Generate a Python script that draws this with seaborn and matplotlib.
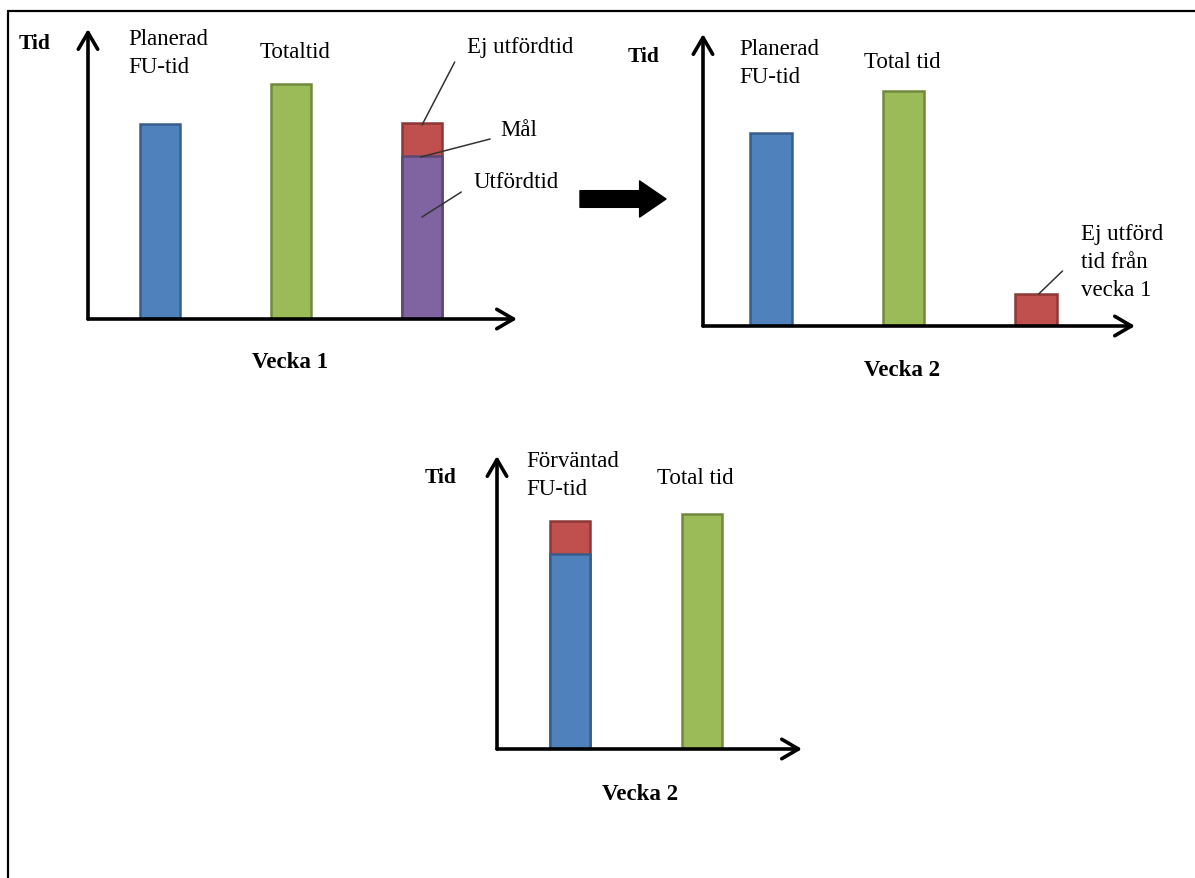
import matplotlib
matplotlib.use("Agg")
import matplotlib.pyplot as plt
from matplotlib.lines import Line2D
import seaborn as sns

# Vecka 1
v1_categories = ["Planerad FU-tid", "Totaltid", "Utfördtid"]
v1_values = [195, 235, 163]
v1_ej_utford = [0, 0, 33]          # stacked on top of Utfördtid

# Vecka 2
v2_categories = ["Planerad FU-tid", "Total tid", "Ej utförd tid från vecka 1"]
v2_values = [193, 235, 32]

# Vecka 2, förväntad
v3_categories = ["Förväntad FU-tid", "Total tid"]
v3_values = [195, 235]
v3_ej_utford = [33, 0]

BLUE, GREEN, PURPLE, RED = "#4F81BD", "#9BBB59", "#8064A2", "#C0504D"
EDGE = {BLUE: "#385D8A", GREEN: "#71893F", PURPLE: "#5C4776", RED: "#8C3836"}

W, H = 1195, 879
BAR_W = 0.31

sns.set_theme(style="white")
plt.rcParams['font.family'] = ['Liberation Serif', 'DejaVu Serif']
plt.rcParams['text.color'] = 'black'

fig = plt.figure(figsize=(W / 100, H / 100), dpi=100)


def panel(left, right, base, tip):
    # axes box from pixel layout, data units = pixels above the x-axis
    ax = fig.add_axes([left / W, 1 - base / H, (right - left) / W, (base - tip) / H])
    ax.set_axis_off()
    arrow = dict(arrowstyle="->,head_length=0.6,head_width=0.35", lw=2.6,
                 color="black", shrinkA=0, shrinkB=0, mutation_scale=20)
    ax.annotate("", xy=(1, 0), xytext=(0, 0), xycoords="axes fraction", arrowprops=arrow)
    ax.annotate("", xy=(0, 1), xytext=(0, 0), xycoords="axes fraction", arrowprops=arrow)
    return ax


def set_limits(ax, left, right, base, tip, first_c, step):
    # seaborn resets categorical limits, so this goes after the bars
    ax.set_xlim((left - first_c) / step, (right - first_c) / step)
    ax.set_ylim(0, base - tip)


def bars(ax, cats, vals, colors, order):
    sns.barplot(x=cats, y=vals, hue=cats, order=order, hue_order=cats,
                palette=dict(zip(cats, colors)), legend=False, width=BAR_W,
                saturation=1, linewidth=1.8, ax=ax)
    for p in ax.patches[-len(cats):]:
        fc = matplotlib.colors.to_hex(p.get_facecolor())
        p.set_edgecolor(EDGE.get(fc.upper(), "#333333"))
    ax.set_axis_off()


def txt(ax, x, y, s, bold=False, ha="left", va="center", size=16.5):
    ax.text(x, y, s, ha=ha, va=va, fontsize=size, clip_on=False, color="black",
            fontweight="bold" if bold else "normal", linespacing=1.45)


def leader(ax, x0, y0, x1, y1):
    ax.plot([x0, x1], [y0, y1], color="#333333", lw=1.1, clip_on=False, zorder=5)


# ---- panel 1: Vecka 1
ax1 = panel(88, 517, 320, 30)
tops1 = [v + e for v, e in zip(v1_values, v1_ej_utford)]
bars(ax1, v1_categories, tops1, [BLUE, GREEN, RED], v1_categories)
bars(ax1, v1_categories[2:], v1_values[2:], [PURPLE], v1_categories)
set_limits(ax1, 88, 517, 320, 30, 160, 131)
txt(ax1, -1.08, 276, "Tid", bold=True, size=15.5)
txt(ax1, -0.24, 291, "Planerad\nFU-tid", va="top")
txt(ax1, 1.03, 267, "Totaltid", ha="center")
txt(ax1, 2.34, 273, "Ej utfördtid")
txt(ax1, 2.6, 190, "Mål")
txt(ax1, 2.39, 137, "Utfördtid")
leader(ax1, 2.25, 257, 2.0, 194)
leader(ax1, 2.52, 180, 1.99, 162)
leader(ax1, 2.30, 127, 2.0, 102)
txt(ax1, 0.99, -43, "Vecka 1", bold=True, ha="center")

# ---- panel 2: Vecka 2
ax2 = panel(703, 1135, 327, 35)
bars(ax2, v2_categories, v2_values, [BLUE, GREEN, RED], v2_categories)
set_limits(ax2, 703, 1135, 327, 35, 771, 132.5)
txt(ax2, -1.08, 270, "Tid", bold=True, size=15.5)
txt(ax2, -0.24, 288, "Planerad\nFU-tid", va="top")
txt(ax2, 0.99, 265, "Total tid", ha="center")
txt(ax2, 2.34, 103, "Ej utförd\ntid från\nvecka 1", va="top")
leader(ax2, 2.20, 55, 2.02, 32)
txt(ax2, 0.99, -44, "Vecka 2", bold=True, ha="center")

# ---- panel 3: Vecka 2, förväntad FU-tid
ax3 = panel(497, 802, 750, 457)
tops3 = [v + e for v, e in zip(v3_values, v3_ej_utford)]
bars(ax3, v3_categories, tops3, [RED, GREEN], v3_categories)
bars(ax3, v3_categories[:1], v3_values[:1], [BLUE], v3_categories)
set_limits(ax3, 497, 802, 750, 457, 570, 132)
txt(ax3, -1.10, 272, "Tid", bold=True, size=15.5)
txt(ax3, -0.33, 299, "Förväntad\nFU-tid", va="top")
txt(ax3, 0.95, 271, "Total tid", ha="center")
txt(ax3, 0.53, -45, "Vecka 2", bold=True, ha="center")

# big arrow between week 1 and week 2
ax1.annotate("", xy=(666, H - 200), xytext=(580, H - 200), xycoords="figure pixels",
             arrowprops=dict(arrowstyle="simple,head_length=0.95,head_width=1.3,tail_width=0.6",
                             color="black", shrinkA=0, shrinkB=0, mutation_scale=20))

# frame lines (top and left)
fig.add_artist(Line2D([8 / W, 1.0], [1 - 12 / H, 1 - 12 / H], transform=fig.transFigure,
                      color="black", lw=1.6))
fig.add_artist(Line2D([8 / W, 8 / W], [0, 1 - 12 / H], transform=fig.transFigure,
                      color="black", lw=1.6))

fig.savefig("out.png", dpi=100)
